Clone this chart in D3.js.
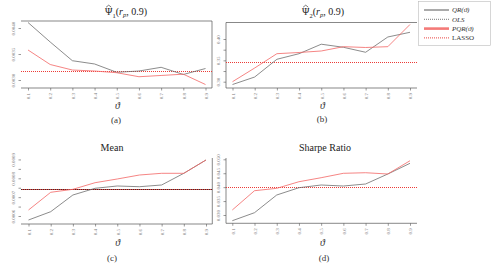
<!DOCTYPE html>
<html><head><meta charset="utf-8">
<script src="https://cdn.jsdelivr.net/npm/d3@7"></script>
<style>
body{margin:0;background:#fff}
svg{display:block}
text{font-family:"Liberation Serif","DejaVu Serif",serif}
</style>
</head><body>
<svg id="chart" width="492" height="269"></svg>
<script>
// ---------- data ----------
const theta = [0.1,0.2,0.3,0.4,0.5,0.6,0.7,0.8,0.9];
const thetaLabels = ["0.1","0.2","0.3","0.4","0.5","0.6","0.7","0.8","0.9"];

// (a) Psi1
const qrA   = [0.004106,0.003731,0.003371,0.003308,0.003148,0.003173,0.003244,0.003106,0.003221];
const pqrA  = [0.003577,0.003298,0.003192,0.003173,0.003140,0.003063,0.003087,0.003112,0.002913];
const olsA  = 0.003179;
const lassoA = 0.003179;
const ticksA = [0.0030,0.0035,0.0040];
const tickLabA = ["0.0030","0.0035","0.0040"];

// (b) Psi2
const qrB   = [0.2934,0.3110,0.3525,0.3656,0.3878,0.3806,0.3689,0.4047,0.4157];
const pqrB  = [0.3000,0.3321,0.3656,0.3684,0.3719,0.3820,0.3801,0.3820,0.4340];
const olsB  = 0.3454;
const lassoB = 0.3454;
const ticksB = [0.300,0.325,0.350,0.375,0.400];
const tickLabB = ["0.30","","0.35","","0.40"];

// (c) Mean
const qrC   = [0.0005788,0.0006228,0.0007114,0.0007470,0.0007592,0.0007554,0.0007645,0.0008265,0.0008971];
const pqrC  = [0.0006318,0.0007257,0.0007416,0.0007767,0.0007963,0.0008175,0.0008265,0.0008265,0.0008971];
const olsC  = 0.0007416;
const lassoC = 0.0007416;
const ticksC = [0.0006,0.00065,0.0007,0.00075,0.0008,0.00085,0.0009];
const tickLabC = ["0.0006","","0.0007","","0.0008","","0.0009"];

// (d) Sharpe ratio
const qrD   = [0.02795,0.03083,0.03718,0.03980,0.04077,0.04041,0.04113,0.04472,0.04856];
const pqrD  = [0.03180,0.03872,0.03958,0.04195,0.04339,0.04497,0.04518,0.04472,0.04949];
const olsD  = 0.04016;
const lassoD = 0.04016;
const ticksD = [0.030,0.035,0.040,0.045,0.050];
const tickLabD = ["0.030","0.035","0.040","0.045","0.050"];

// ---------- layout ----------
const panels = [
  {qr:qrA, pqr:pqrA, ols:olsA, lasso:lassoA, ticks:ticksA, labs:tickLabA, mix:false,
   box:[21,212], top:21, axisY:88, tx:[28,205.5], yRef:[0.0030,0.0040], yPix:[80,28],
   axisX:21, edges:["top","right"], title:"psi1", tx0:126, ty:15, sub:"(a)", subX:116, thY:109, subY:123},
  {qr:qrB, pqr:pqrB, ols:olsB, lasso:lassoB, ticks:ticksB, labs:tickLabB, mix:false,
   box:[226,417], top:22.5, axisY:88, tx:[232.5,410], yRef:[0.30,0.40], yPix:[81.7,39],
   axisX:226, edges:["top","left"], title:"psi2", tx0:323, ty:15, sub:"(b)", subX:322, thY:109, subY:122},
  {qr:qrC, pqr:pqrC, ols:olsC, lasso:lassoC, ticks:ticksC, labs:tickLabC, mix:true,
   box:[21,212.3], top:158, axisY:224, tx:[28.5,206], yRef:[0.0006,0.0008], yPix:[216,178.3],
   axisX:21, edges:["right"], title:"Mean", tx0:112, ty:150.5, sub:"(c)", subX:112, thY:246, subY:261},
  {qr:qrD, pqr:pqrD, ols:olsD, lasso:lassoD, ticks:ticksD, labs:tickLabD, mix:false,
   box:[226,417], top:158, axisY:223.3, tx:[232.3,410], yRef:[0.030,0.050], yPix:[215,159.3],
   axisX:226, edges:["left"], title:"Sharpe Ratio", tx0:325, ty:150.5, sub:"(d)", subX:324, thY:246, subY:261}
];

const svg = d3.select("#chart");
const axisCol = "#555";

panels.forEach(p => {
  const g = svg.append("g");
  const x = d3.scaleLinear().domain([theta[0], theta[theta.length-1]]).range(p.tx);
  const y = d3.scaleLinear().domain(p.yRef).range(p.yPix);

  // box edges
  if (p.edges.includes("top")) g.append("line").attr("x1",p.box[0]).attr("x2",p.box[1]).attr("y1",p.top).attr("y2",p.top);
  if (p.edges.includes("right")) g.append("line").attr("x1",p.box[1]).attr("x2",p.box[1]).attr("y1",p.top).attr("y2",p.axisY);
  if (p.edges.includes("left")) g.append("line").attr("x1",p.box[0]).attr("x2",p.box[0]).attr("y1",p.top).attr("y2",p.axisY);
  g.selectAll("line").attr("stroke",axisCol).attr("stroke-width",0.7);

  // bottom axis
  const xa = svg.append("g").attr("transform",`translate(0,${p.axisY})`)
    .call(d3.axisBottom(x).tickValues(theta).tickSize(2.5).tickFormat((d,i)=>thetaLabels[i]));
  xa.select(".domain").attr("d",`M${p.box[0]},0H${p.box[1]}`).attr("stroke",axisCol).attr("stroke-width",0.7);
  xa.selectAll(".tick line").attr("stroke",axisCol).attr("stroke-width",0.6);
  xa.selectAll(".tick text").attr("font-size",5).attr("fill","#777")
    .attr("text-anchor","middle").attr("y",0).attr("dy",null)
    .attr("transform","translate(1.8,8) rotate(-90)");

  // left axis
  const ya = svg.append("g").attr("transform",`translate(${p.axisX},0)`)
    .call(d3.axisLeft(y).tickValues(p.ticks).tickSize(2.5).tickFormat((d,i)=>p.labs[i]));
  ya.select(".domain").remove();
  ya.selectAll(".tick line").attr("stroke",axisCol).attr("stroke-width",0.6);
  ya.selectAll(".tick text").attr("font-size",5).attr("fill","#777")
    .attr("text-anchor","middle").attr("x",0).attr("dy",null)
    .attr("transform","translate(-6,0) rotate(-90)");

  // horizontal benchmarks (snapped to pixel rows)
  const yo = Math.round(y(p.ols)) + 0.5, yl = Math.round(y(p.lasso)) + 0.5;
  g.append("line").attr("x1",p.box[0]).attr("x2",p.box[1])
    .attr("y1",yo).attr("y2",yo)
    .attr("stroke","#333").attr("stroke-width",1).attr("stroke-dasharray","1 1");
  g.append("line").attr("x1",p.box[0]).attr("x2",p.box[1])
    .attr("y1",yl).attr("y2",yl)
    .attr("stroke","#ec3b37").attr("stroke-width",1).attr("stroke-dasharray","1 1")
    .attr("stroke-dashoffset", p.mix ? 1 : 0);

  const line = d3.line().x((d,i)=>x(theta[i])).y(d=>y(d));
  g.append("path").attr("d",line(p.qr)).attr("fill","none")
    .attr("stroke","#666").attr("stroke-width",0.75);
  g.append("path").attr("d",line(p.pqr)).attr("fill","none")
    .attr("stroke","#f26664").attr("stroke-width",0.8);

  // title
  if (p.title === "psi1" || p.title === "psi2") {
    const t = svg.append("text").attr("x",p.tx0).attr("y",p.ty).attr("text-anchor","middle").attr("font-size",10).attr("fill","#222");
    t.append("tspan").text("\u03A8");
    t.append("tspan").attr("font-size",6.5).attr("dy",2.5).text(p.title==="psi1"?"1":"2");
    t.append("tspan").attr("dy",-2.5).text("(");
    t.append("tspan").attr("font-style","italic").text("r");
    t.append("tspan").attr("font-style","italic").attr("font-size",6.5).attr("dy",2).text("p");
    t.append("tspan").attr("dy",-2).text(", 0.9)");
    // hat over Psi
    const ext = t.node().getExtentOfChar(0);
    const cx = ext.x + ext.width/2, top = ext.y + 0.6;
    svg.append("path")
      .attr("d",`M${cx-2.6},${top+0.6}L${cx},${top-1.4}L${cx+2.6},${top+0.6}`)
      .attr("fill","none").attr("stroke","#222").attr("stroke-width",0.6);
  } else {
    svg.append("text").attr("x",p.tx0).attr("y",p.ty).attr("text-anchor","middle")
      .attr("font-size",10).attr("fill","#222").text(p.title);
  }
  // theta label
  svg.append("text").attr("x",(p.box[0]+p.box[1])/2+1).attr("y",p.thY).attr("text-anchor","middle")
    .attr("font-size",10).attr("font-style","italic").attr("fill","#333").text("\u03D1");
  svg.append("text").attr("x",p.subX).attr("y",p.subY).attr("text-anchor","middle")
    .attr("font-size",9).attr("fill","#333").text(p.sub);
});

// ---------- legend ----------
const legendNames = ["QR(\u03D1)","OLS","PQR(\u03D1)","LASSO"];
const legendStyles = [
  {stroke:"#444", w:0.9, dash:null, italic:true},
  {stroke:"#555", w:0.8, dash:"1 1", italic:true},
  {stroke:"#f47a78", w:2.6, dash:null, italic:true},
  {stroke:"#e8302c", w:0.9, dash:"1 1", italic:false}
];
const lg = svg.append("g");
lg.append("rect").attr("x",418.5).attr("y",1.5).attr("width",72).attr("height",44)
  .attr("fill","#fff").attr("stroke","#bbb").attr("stroke-width",0.6);
legendNames.forEach((n,i) => {
  const yy = 10 + i*9.3;
  const s = legendStyles[i];
  lg.append("line").attr("x1",424).attr("x2",449).attr("y1",yy).attr("y2",yy)
    .attr("stroke",s.stroke).attr("stroke-width",s.w).attr("stroke-dasharray",s.dash);
  lg.append("text").attr("x",452).attr("y",yy+2.3).attr("font-size",7)
    .attr("font-style",s.italic?"italic":"normal").attr("fill","#333").text(n);
});
</script>
</body></html>
